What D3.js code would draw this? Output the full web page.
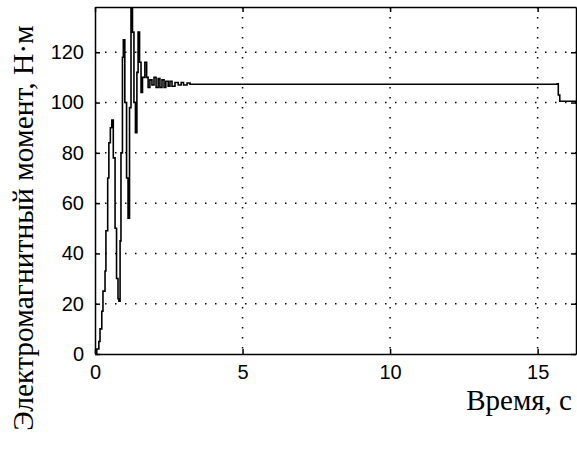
<!DOCTYPE html>
<html>
<head>
<meta charset="utf-8">
<script src="https://cdn.jsdelivr.net/npm/d3@7"></script>
<style>
  body { margin: 0; background: #fff; }
  svg { display: block; }
</style>
</head>
<body>
<svg></svg>
<script>
// time, s
let time = [0, 0.06, 0.13, 0.17, 0.23, 0.27, 0.34, 0.37, 0.43, 0.47, 0.52, 0.57,
    0.62, 0.68, 0.73, 0.78, 0.81,
    0.85, 0.88, 0.93, 0.96,
    1.01, 1.07, 1.12,
    1.17, 1.22,
    1.27, 1.32, 1.37,
    1.42, 1.46,
    1.51, 1.56,
    1.61, 1.69,
    1.75, 1.8,
    1.86, 1.93, 2.0, 2.07, 2.14, 2.2, 2.27, 2.34, 2.4, 2.48, 2.54, 2.61, 2.71, 2.82, 2.92, 3.0, 3.12, 3.22,
    15.66, 15.7, 15.75, 16.3];
// electromagnetic torque, N*m
let torque = [0, 2, 5, 10, 17, 25, 33, 49, 70, 84, 90, 93,
    78, 50, 30, 22, 21,
    45, 80, 118, 125,
    100, 70, 54,
    98, 140,
    128, 100, 88,
    112, 128,
    116, 104,
    110, 116,
    110, 106,
    109, 107, 110, 106, 109.5, 106, 109, 106, 108.5, 106.5, 108.5, 106.5, 108, 107, 108, 107, 107.8, 107.3,
    107.5, 103, 100.5, 100.5];

let xTicks = [0, 5, 10, 15];
let yTicks = [0, 20, 40, 60, 80, 100, 120];
let xLabel = "Время, с";
let yLabel = "Электромагнитный момент, Н·м";

let width = 577;
let height = 450;
let pLeft = 95, pRight = 576, pTop = 7, pBottom = 354;

let svg = d3.select("svg")
    .attr("width", width)
    .attr("height", height);

let scaleX = d3.scaleLinear().domain([0, 16.3]).range([pLeft, pRight]);
let scaleY = d3.scaleLinear().domain([0, 138]).range([pBottom, pTop]);

let data = time.map((t, i) => ({ t: t, m: torque[i] }));

// grid
svg.append("g")
    .selectAll("line")
    .data(xTicks.filter(d => d > 0))
    .enter()
    .append("line")
    .attr("x1", d => scaleX(d)).attr("x2", d => scaleX(d))
    .attr("y1", pTop).attr("y2", pBottom)
    .style("stroke", "#000")
    .style("stroke-width", 1.5)
    .style("stroke-dasharray", "1.5,8.5");

svg.append("g")
    .selectAll("line")
    .data(yTicks.filter(d => d > 0))
    .enter()
    .append("line")
    .attr("x1", pLeft).attr("x2", pRight)
    .attr("y1", d => scaleY(d)).attr("y2", d => scaleY(d))
    .style("stroke", "#000")
    .style("stroke-width", 1.5)
    .style("stroke-dasharray", "1.5,8.5");

// axes (ticks pointing inside, on all four sides)
let fontTicks = "'Liberation Sans', Arial, sans-serif";

let axB = svg.append("g")
    .attr("transform", `translate(0, ${pBottom})`)
    .call(d3.axisBottom(scaleX).tickValues(xTicks).tickSizeInner(-5).tickSizeOuter(0).tickPadding(11));
let axL = svg.append("g")
    .attr("transform", `translate(${pLeft}, 0)`)
    .call(d3.axisLeft(scaleY).tickValues(yTicks).tickSizeInner(-5).tickSizeOuter(0).tickPadding(11));
let axT = svg.append("g")
    .attr("transform", `translate(0, ${pTop})`)
    .call(d3.axisTop(scaleX).tickValues(xTicks).tickSizeInner(-5).tickSizeOuter(0).tickFormat(""));
let axR = svg.append("g")
    .attr("transform", `translate(${pRight}, 0)`)
    .call(d3.axisRight(scaleY).tickValues(yTicks).tickSizeInner(-5).tickSizeOuter(0).tickFormat(""));

[axB, axL, axT, axR].forEach(ax => {
    ax.select(".domain").style("stroke", "#000").style("stroke-width", 1.5);
    ax.selectAll(".tick line").style("stroke", "#000").style("stroke-width", 1.5);
    ax.selectAll("text")
        .style("font-family", fontTicks)
        .style("font-size", "20px")
        .style("fill", "#000");
});
axB.selectAll("text").attr("dy", "0.71em");

// curve
let lineM = d3.line()
    .x(d => scaleX(d.t))
    .y(d => scaleY(d.m))
    .curve(d3.curveStepAfter);

svg.append("clipPath").attr("id", "clip")
    .append("rect")
    .attr("x", pLeft).attr("y", pTop)
    .attr("width", pRight - pLeft).attr("height", pBottom - pTop);

svg.append("path")
    .datum(data)
    .attr("clip-path", "url(#clip)")
    .attr("d", lineM)
    .style("fill", "none")
    .style("stroke", "#000")
    .style("stroke-width", 1.6);

// axis labels
svg.append("text")
    .attr("x", 572)
    .attr("y", 410)
    .attr("text-anchor", "end")
    .style("font-family", "'Liberation Serif', 'Times New Roman', serif")
    .style("font-size", "29px")
    .text(xLabel);

svg.append("text")
    .attr("transform", "translate(33, 228) rotate(-90)")
    .attr("text-anchor", "middle")
    .style("font-family", "'Liberation Serif', 'Times New Roman', serif")
    .style("font-size", "29.5px")
    .text(yLabel);
</script>
</body>
</html>
